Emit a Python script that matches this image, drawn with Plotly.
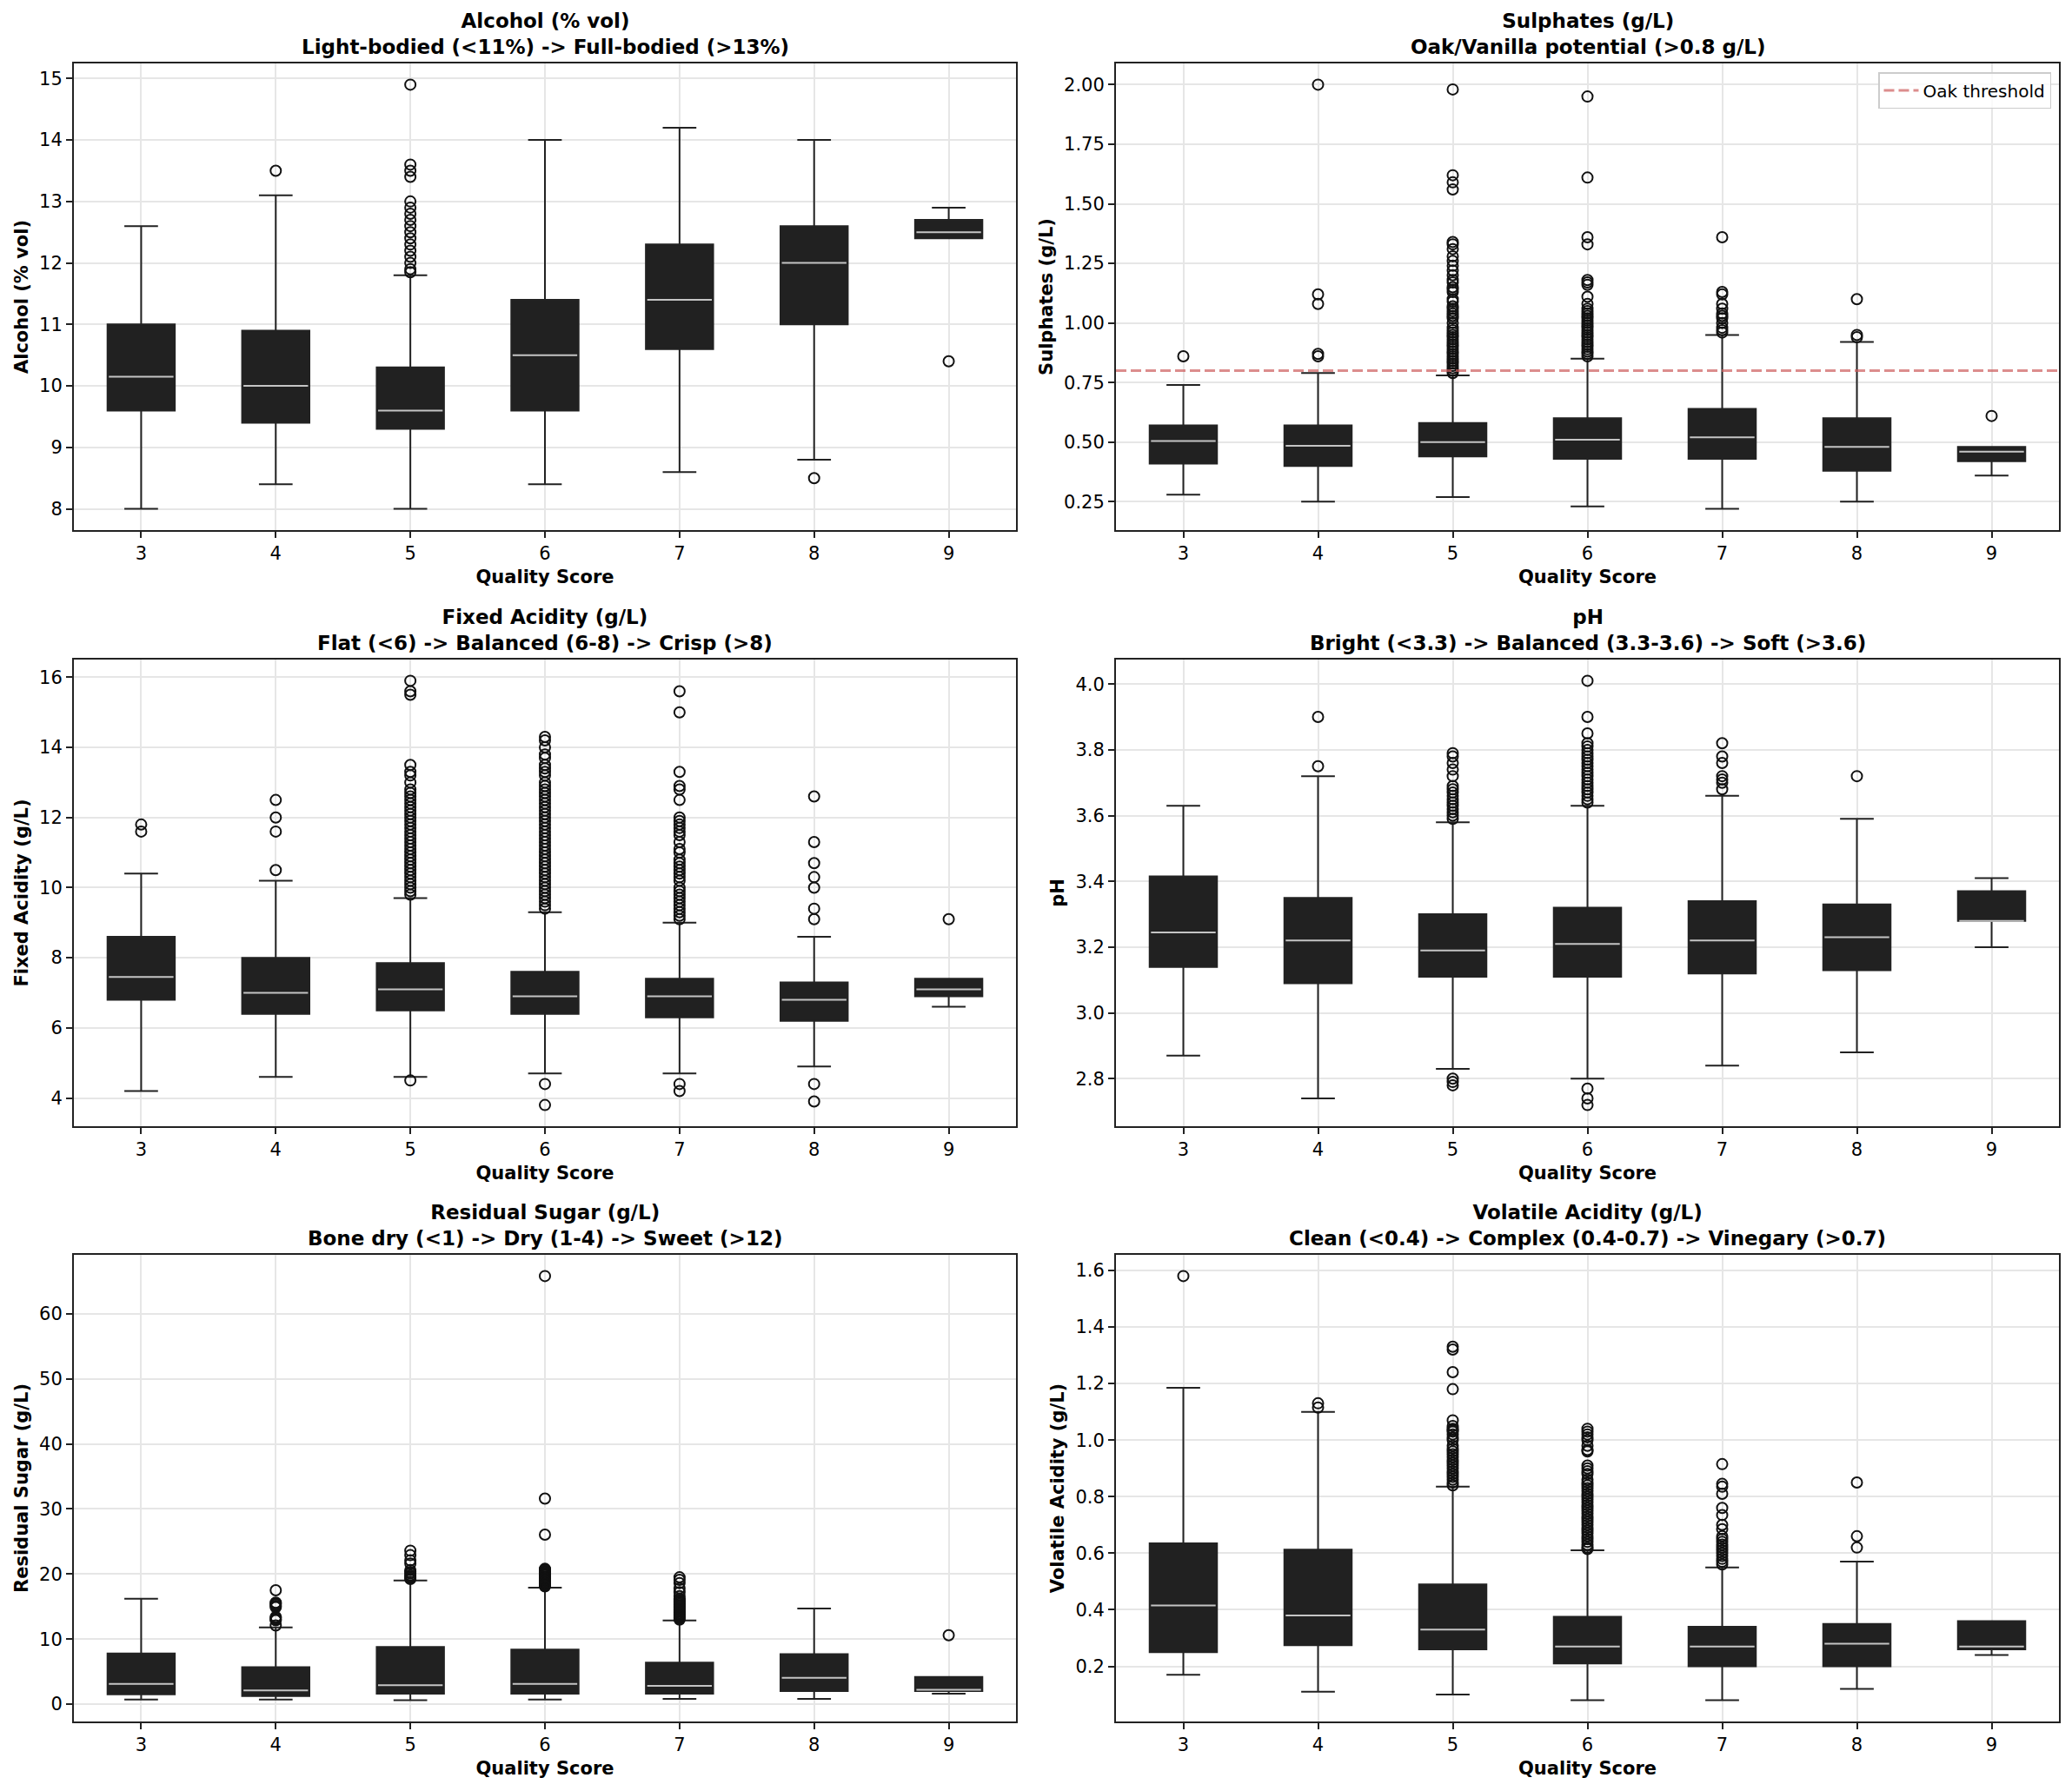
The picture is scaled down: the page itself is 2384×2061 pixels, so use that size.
import plotly.graph_objects as go
from plotly.subplots import make_subplots

# page body has an 8px margin, so the figure is drawn a bit smaller and offset
W, H = 2384, 2061
OFF = 8
FW, FH = W - 2 * OFF, H - 2 * OFF

quality = [3, 4, 5, 6, 7, 8, 9]

# Alcohol (% vol)
alcohol_lo = [8.0, 8.4, 8.0, 8.4, 8.6, 8.8, 12.4]
alcohol_q1 = [9.6, 9.4, 9.3, 9.6, 10.6, 11.0, 12.4]
alcohol_med = [10.15, 10.0, 9.6, 10.5, 11.4, 12.0, 12.5]
alcohol_q3 = [11.0, 10.9, 10.3, 11.4, 12.3, 12.6, 12.7]
alcohol_hi = [12.6, 13.1, 11.8, 14.0, 14.2, 14.0, 12.9]
alcohol_out = [
    [],
    [13.5],
    [14.9, 13.6, 13.5, 13.4, 13.0, 12.9, 12.8, 12.7, 12.6, 12.5, 12.4, 12.3, 12.2, 12.1, 12.0, 11.9, 11.85],
    [],
    [],
    [8.5],
    [10.4],
]

# Sulphates (g/L)
sulph_lo = [0.28, 0.25, 0.27, 0.23, 0.22, 0.25, 0.36]
sulph_q1 = [0.41, 0.40, 0.44, 0.43, 0.43, 0.38, 0.42]
sulph_med = [0.505, 0.485, 0.50, 0.51, 0.52, 0.48, 0.46]
sulph_q3 = [0.57, 0.57, 0.58, 0.60, 0.64, 0.60, 0.48]
sulph_hi = [0.74, 0.79, 0.78, 0.85, 0.95, 0.92, 0.48]
sulph_out = [
    [0.86],
    [2.0, 1.12, 1.08, 0.87, 0.86],
    [1.98, 1.62, 1.59, 1.56, 1.34, 1.33, 1.31, 1.28, 1.26, 1.24, 1.22, 1.2, 1.18, 1.17, 1.15, 1.14,
     1.13, 1.1, 1.09, 1.07, 1.06, 1.05, 1.04, 1.03, 1.02, 1.0, 0.98, 0.97, 0.96, 0.95, 0.94, 0.93,
     0.92, 0.91, 0.9, 0.89, 0.88, 0.87, 0.86, 0.85, 0.84, 0.83, 0.82, 0.81, 0.8, 0.79],
    [1.95, 1.61, 1.36, 1.33, 1.18, 1.17, 1.16, 1.11, 1.08, 1.06, 1.05, 1.04, 1.03, 1.02, 1.01, 1.0,
     0.99, 0.98, 0.97, 0.96, 0.95, 0.94, 0.93, 0.92, 0.91, 0.9, 0.89, 0.88, 0.87, 0.86],
    [1.36, 1.13, 1.12, 1.08, 1.06, 1.04, 1.03, 1.02, 1.0, 0.98, 0.97, 0.96],
    [1.1, 0.95, 0.94],
    [0.61],
]
oak_threshold = 0.8

# Fixed Acidity (g/L)
fixed_lo = [4.2, 4.6, 4.6, 4.7, 4.7, 4.9, 6.6]
fixed_q1 = [6.8, 6.4, 6.5, 6.4, 6.3, 6.2, 6.9]
fixed_med = [7.45, 7.0, 7.1, 6.9, 6.9, 6.8, 7.1]
fixed_q3 = [8.6, 8.0, 7.85, 7.6, 7.4, 7.3, 7.4]
fixed_hi = [10.4, 10.2, 9.7, 9.3, 9.0, 8.6, 7.4]
fixed_out = [
    [11.8, 11.6],
    [12.5, 12.0, 11.6, 10.5],
    [15.9, 15.6, 15.5, 13.5, 13.3, 13.2, 13.0, 12.8, 12.7, 12.6, 12.5, 12.4, 12.3, 12.2, 12.1, 12.0,
     11.9, 11.8, 11.7, 11.6, 11.5, 11.4, 11.3, 11.2, 11.1, 11.0, 10.9, 10.8, 10.7, 10.6, 10.5, 10.4,
     10.3, 10.2, 10.1, 10.0, 9.9, 9.8, 4.5],
    [14.3, 14.2, 14.0, 13.8, 13.7, 13.5, 13.4, 13.3, 13.2, 13.0, 12.9, 12.8, 12.7, 12.6, 12.5, 12.4,
     12.3, 12.2, 12.1, 12.0, 11.9, 11.8, 11.7, 11.6, 11.5, 11.4, 11.3, 11.2, 11.1, 11.0, 10.9, 10.8,
     10.7, 10.6, 10.5, 10.4, 10.3, 10.2, 10.1, 10.0, 9.9, 9.8, 9.7, 9.6, 9.5, 9.4, 4.4, 3.8],
    [15.6, 15.0, 13.3, 12.9, 12.8, 12.5, 12.0, 11.9, 11.8, 11.7, 11.6, 11.5, 11.3, 11.1, 11.0, 10.8,
     10.7, 10.6, 10.5, 10.4, 10.3, 10.2, 10.0, 9.9, 9.8, 9.7, 9.6, 9.5, 9.4, 9.3, 9.2, 9.1, 4.4, 4.2],
    [12.6, 11.3, 10.7, 10.3, 10.0, 9.4, 9.1, 4.4, 3.9],
    [9.1],
]

# pH
ph_lo = [2.87, 2.74, 2.83, 2.80, 2.84, 2.88, 3.20]
ph_q1 = [3.14, 3.09, 3.11, 3.11, 3.12, 3.13, 3.28]
ph_med = [3.245, 3.22, 3.19, 3.21, 3.22, 3.23, 3.28]
ph_q3 = [3.415, 3.35, 3.30, 3.32, 3.34, 3.33, 3.37]
ph_hi = [3.63, 3.72, 3.58, 3.63, 3.66, 3.59, 3.41]
ph_out = [
    [],
    [3.9, 3.75],
    [3.79, 3.78, 3.76, 3.74, 3.72, 3.69, 3.68, 3.67, 3.66, 3.65, 3.64, 3.63, 3.62, 3.61, 3.6, 3.59,
     2.8, 2.79, 2.78],
    [4.01, 3.9, 3.85, 3.82, 3.81, 3.8, 3.79, 3.78, 3.77, 3.76, 3.75, 3.74, 3.73, 3.72, 3.71, 3.7,
     3.69, 3.68, 3.67, 3.66, 3.65, 3.64, 2.77, 2.74, 2.72],
    [3.82, 3.78, 3.76, 3.72, 3.71, 3.7, 3.68],
    [3.72],
    [],
]

# Residual Sugar (g/L)
sugar_lo = [0.7, 0.7, 0.6, 0.7, 0.8, 0.8, 1.6]
sugar_q1 = [1.5, 1.25, 1.6, 1.6, 1.6, 2.0, 2.0]
sugar_med = [3.1, 2.1, 2.9, 3.1, 2.8, 4.05, 2.2]
sugar_q3 = [7.8, 5.7, 8.8, 8.4, 6.4, 7.7, 4.2]
sugar_hi = [16.2, 11.8, 19.0, 17.9, 12.85, 14.7, 4.2]
sugar_out = [
    [],
    [17.5, 15.6, 15.5, 15.3, 15.1, 14.9, 13.4, 13.2, 13.0, 12.9, 12.1],
    [23.6, 22.9, 22.1, 21.6, 20.6, 20.3, 20.1, 19.8, 19.6, 19.4, 19.25],
    [65.8, 31.6, 26.05, 20.8, 20.7, 20.5, 20.4, 20.3, 20.2, 20.1, 20.0, 19.9, 19.8, 19.6, 19.5, 19.4,
     19.3, 19.2, 19.1, 19.0, 18.9, 18.8, 18.6, 18.5, 18.4, 18.3, 18.2, 18.1],
    [19.5, 19.1, 18.6, 17.8, 17.2, 16.6, 16.2, 16.0, 15.8, 15.6, 15.4, 15.2, 15.0, 14.8, 14.6, 14.4,
     14.2, 14.0, 13.8, 13.6, 13.4, 13.2, 13.0],
    [],
    [10.6],
]

# Volatile Acidity (g/L)
vol_lo = [0.17, 0.11, 0.10, 0.08, 0.08, 0.12, 0.24]
vol_q1 = [0.25, 0.275, 0.26, 0.21, 0.20, 0.20, 0.26]
vol_med = [0.415, 0.38, 0.33, 0.27, 0.27, 0.28, 0.27]
vol_q3 = [0.635, 0.6125, 0.49, 0.375, 0.34, 0.35, 0.36]
vol_hi = [1.185, 1.10, 0.835, 0.61, 0.55, 0.57, 0.36]
vol_out = [
    [1.58],
    [1.13, 1.115],
    [1.33, 1.32, 1.24, 1.18, 1.07, 1.05, 1.04, 1.035, 1.03, 1.02, 1.01, 1.0, 0.98, 0.97, 0.96, 0.95,
     0.94, 0.93, 0.92, 0.91, 0.9, 0.89, 0.88, 0.87, 0.86, 0.85, 0.84],
    [1.04, 1.03, 1.02, 1.01, 1.0, 0.98, 0.965, 0.96, 0.91, 0.9, 0.89, 0.88, 0.86, 0.85, 0.84, 0.83,
     0.82, 0.81, 0.8, 0.79, 0.78, 0.77, 0.76, 0.75, 0.74, 0.73, 0.72, 0.71, 0.7, 0.69, 0.68, 0.67,
     0.66, 0.65, 0.64, 0.63, 0.62, 0.615],
    [0.915, 0.845, 0.835, 0.81, 0.76, 0.735, 0.7, 0.685, 0.66, 0.65, 0.64, 0.63, 0.62, 0.61, 0.6,
     0.59, 0.58, 0.57, 0.56],
    [0.85, 0.66, 0.62],
    [],
]

panels = [
    ("Alcohol (% vol)", "Light-bodied (&lt;11%) -&gt; Full-bodied (&gt;13%)", "Alcohol (% vol)",
     alcohol_lo, alcohol_q1, alcohol_med, alcohol_q3, alcohol_hi, alcohol_out, 1, ".0f"),
    ("Sulphates (g/L)", "Oak/Vanilla potential (&gt;0.8 g/L)", "Sulphates (g/L)",
     sulph_lo, sulph_q1, sulph_med, sulph_q3, sulph_hi, sulph_out, 0.25, ".2f"),
    ("Fixed Acidity (g/L)", "Flat (&lt;6) -&gt; Balanced (6-8) -&gt; Crisp (&gt;8)", "Fixed Acidity (g/L)",
     fixed_lo, fixed_q1, fixed_med, fixed_q3, fixed_hi, fixed_out, 2, ".0f"),
    ("pH", "Bright (&lt;3.3) -&gt; Balanced (3.3-3.6) -&gt; Soft (&gt;3.6)", "pH",
     ph_lo, ph_q1, ph_med, ph_q3, ph_hi, ph_out, 0.2, ".1f"),
    ("Residual Sugar (g/L)", "Bone dry (&lt;1) -&gt; Dry (1-4) -&gt; Sweet (&gt;12)", "Residual Sugar (g/L)",
     sugar_lo, sugar_q1, sugar_med, sugar_q3, sugar_hi, sugar_out, 10, ".0f"),
    ("Volatile Acidity (g/L)", "Clean (&lt;0.4) -&gt; Complex (0.4-0.7) -&gt; Vinegary (&gt;0.7)",
     "Volatile Acidity (g/L)",
     vol_lo, vol_q1, vol_med, vol_q3, vol_hi, vol_out, 0.2, ".1f"),
]

# subplot frames in page pixels (left, right) and (top, bottom)
col_px = [(85, 1169), (1284, 2369)]
row_px = [(73, 610), (759, 1296), (1444, 1981)]


def px_x(p):
    return (p - OFF) / FW


def px_y(p):
    return 1 - (p - OFF) / FH


FONT = "DejaVu Sans"
DARK = "#222222"
GRID = "#e6e6e6"

fig = make_subplots(rows=3, cols=2)

for i, (title, sub, ylab, lo, q1, med, q3, hi, out, dtick, fmt) in enumerate(panels):
    row, col = i // 2 + 1, i % 2 + 1
    fig.add_trace(go.Box(
        x=quality, q1=q1, median=med, q3=q3, lowerfence=lo, upperfence=hi,
        width=0.5, whiskerwidth=0.5, fillcolor="#212121",
        line=dict(color=DARK, width=2), boxpoints=False, showlegend=False,
    ), row=row, col=col)
    # light median line on top of the dark box
    fig.add_trace(go.Box(
        x=quality, q1=med, median=med, q3=med, lowerfence=med, upperfence=med,
        width=0.48, whiskerwidth=0, fillcolor="rgba(0,0,0,0)",
        line=dict(color="#c4c4c4", width=2), boxpoints=False, showlegend=False,
    ), row=row, col=col)
    ox, oy = [], []
    for q, vals in zip(quality, out):
        ox += [q] * len(vals)
        oy += vals
    fig.add_trace(go.Scatter(
        x=ox, y=oy, mode="markers", showlegend=False,
        marker=dict(symbol="circle-open", size=12, color="#111111", line=dict(width=2)),
    ), row=row, col=col)

    allv = lo + hi + oy
    vmin, vmax = min(allv), max(allv)
    pad = 0.05 * (vmax - vmin)

    x0, x1 = col_px[col - 1]
    y0, y1 = row_px[row - 1]
    xd = [px_x(x0), px_x(x1)]
    yd = [px_y(y1), px_y(y0)]

    axis_common = dict(
        showgrid=True, gridcolor=GRID, gridwidth=1.5, zeroline=False,
        showline=True, mirror=True, linecolor=DARK, linewidth=2,
        ticks="outside", ticklen=7, tickwidth=1.5, tickcolor=DARK,
        tickfont=dict(family=FONT, size=21, color="black"), automargin=False,
    )
    fig.update_xaxes(
        domain=xd, range=[2.5, 9.5], tickmode="array", tickvals=quality,
        title=dict(text="Quality Score", font=dict(family=FONT, size=21, color="black", weight="bold"),
                   standoff=8),
        row=row, col=col, **axis_common,
    )
    fig.update_yaxes(
        domain=yd, range=[vmin - pad, vmax + pad], tick0=0, dtick=dtick, tickformat=fmt,
        title=dict(text=ylab, font=dict(family=FONT, size=21, color="black", weight="bold"),
                   standoff=7),
        row=row, col=col, **axis_common,
    )
    fig.add_annotation(
        x=(xd[0] + xd[1]) / 2, y=yd[1], xref="paper", yref="paper",
        xanchor="center", yanchor="bottom", yshift=4, showarrow=False,
        text=f"{title}<br>{sub}",
        font=dict(family=FONT, size=23, color="black", weight="bold"),
    )

fig.add_hline(
    y=oak_threshold, row=1, col=2,
    line=dict(color="rgba(205,92,92,0.7)", width=3, dash="12px,5px"),
    showlegend=True, name="Oak threshold",
)

fig.update_layout(
    width=FW, height=FH, margin=dict(l=0, r=0, t=0, b=0),
    paper_bgcolor="white", plot_bgcolor="white", boxmode="overlay",
    font=dict(family=FONT, color="black"),
    showlegend=True,
    legend=dict(
        x=px_x(col_px[1][1] - 9), y=px_y(row_px[0][0] + 10), xanchor="right", yanchor="top",
        bgcolor="rgba(255,255,255,0.8)", bordercolor="#cccccc", borderwidth=1.5,
        font=dict(family=FONT, size=20, color="black"), itemwidth=40,
    ),
)

fig.write_html("out.html")
